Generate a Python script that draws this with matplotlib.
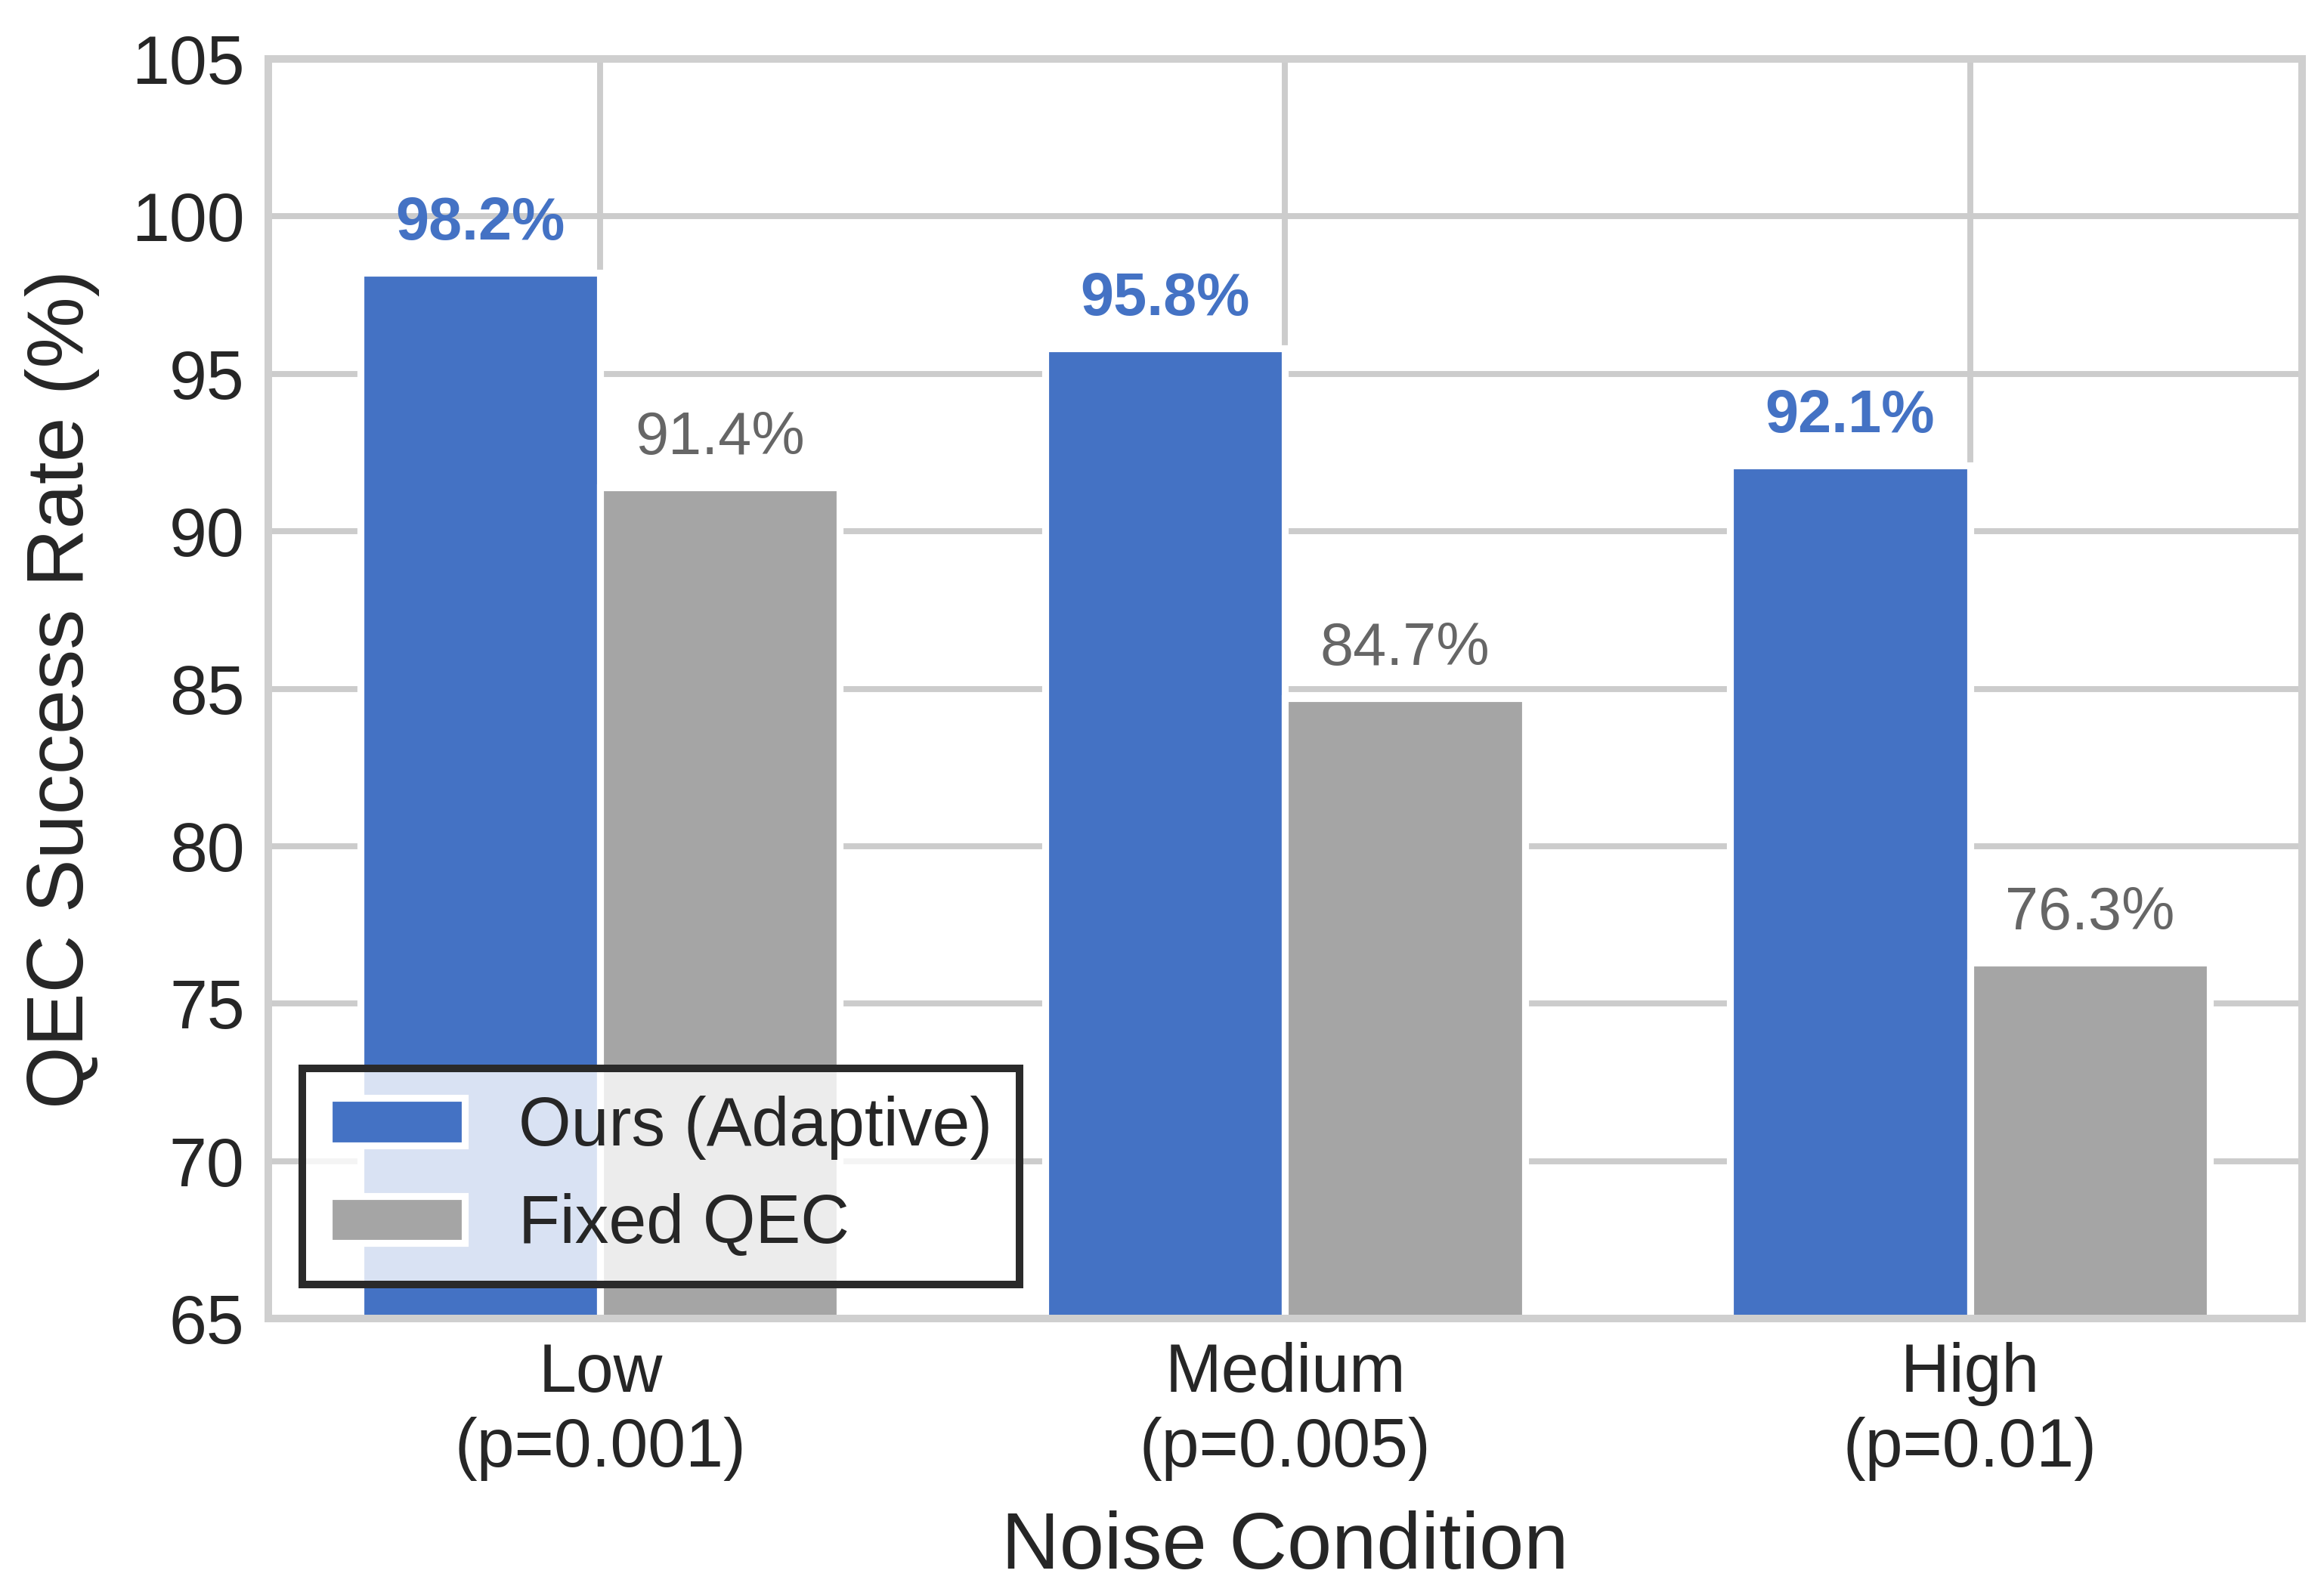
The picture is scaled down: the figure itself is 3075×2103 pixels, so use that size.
import numpy as np
import matplotlib
matplotlib.use('Agg')
import matplotlib.pyplot as plt

# Data
conditions = ['Low\n(p=0.001)', 'Medium\n(p=0.005)', 'High\n(p=0.01)']
ours_adaptive = [98.2, 95.8, 92.1]
fixed_qec = [91.4, 84.7, 76.3]
series_names = ['Ours (Adaptive)', 'Fixed QEC']
y_ticks = [65, 70, 75, 80, 85, 90, 95, 100, 105]

blue = '#4472C4'
grey = '#A5A5A5'

plt.rcParams.update({
    'font.family': ['Liberation Sans', 'DejaVu Sans'],
    'text.color': '#262626',
    'axes.labelcolor': '#262626',
    'xtick.color': '#262626',
    'ytick.color': '#262626',
})

fig = plt.figure(figsize=(10.25, 7.01), dpi=300)
ax = fig.add_axes([0.1154, 0.1702, 0.8752, 0.7927])
ax.set_axisbelow(True)

x = np.arange(len(conditions))
width = 0.35

bars_ours = ax.bar(x - width / 2, ours_adaptive, width,
                   color=blue, edgecolor='white', linewidth=2.2,
                   label=series_names[0])
bars_fixed = ax.bar(x + width / 2, fixed_qec, width,
                    color=grey, edgecolor='white', linewidth=2.2,
                    label=series_names[1])

# Value labels on top of bars
for rect, val in zip(bars_ours, ours_adaptive):
    ax.text(rect.get_x() + rect.get_width() / 2, val + 0.65,
            '{:.1f}%'.format(val), ha='center', va='bottom',
            fontsize=19, fontweight='bold', color=blue)
for rect, val in zip(bars_fixed, fixed_qec):
    ax.text(rect.get_x() + rect.get_width() / 2, val + 0.65,
            '{:.1f}%'.format(val), ha='center', va='bottom',
            fontsize=19, color='#666666')

ax.set_ylim(65, 105)
ax.set_yticks(y_ticks)
ax.set_xticks(x)
ax.set_xticklabels(conditions)
ax.tick_params(axis='both', labelsize=21.5, length=0, pad=7.5)

ax.set_xlabel('Noise Condition', fontsize=25.5, labelpad=9.5)
ax.set_ylabel('QEC Success Rate (%)', fontsize=25.5, labelpad=10)

ax.grid(True, color='#cccccc', linewidth=1.9)
for spine in ax.spines.values():
    spine.set_color('#cfcfcf')
    spine.set_linewidth(2.4)

# Semi-transparent face but solid dark edge
leg = ax.legend(loc='lower left', fontsize=21.5, fancybox=False)
frame = leg.get_frame()
frame.set_alpha(None)
frame.set_facecolor((1, 1, 1, 0.8))
frame.set_edgecolor('#2a2a2a')
frame.set_linewidth(2.4)

fig.savefig('out.png', dpi=300)
